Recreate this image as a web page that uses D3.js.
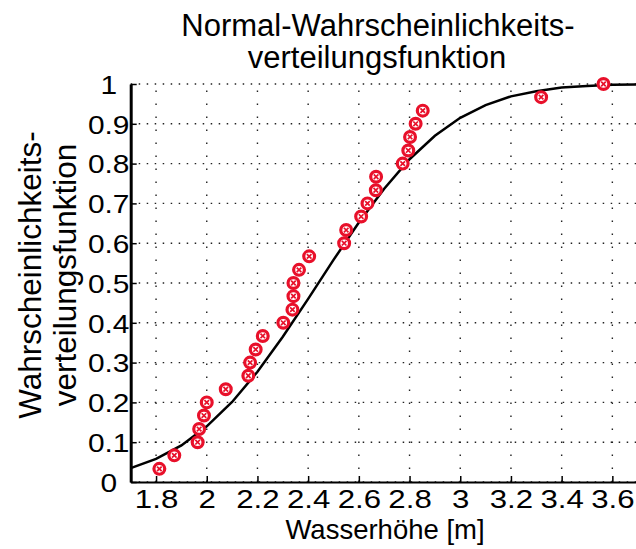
<!DOCTYPE html>
<html>
<head>
<meta charset="utf-8">
<script src="https://cdn.jsdelivr.net/npm/d3@7"></script>
<style>
    html, body { margin: 0; padding: 0; background: #fff; }
    svg { display: block; font-family: "Liberation Sans", Arial, sans-serif; }
</style>
</head>
<body>
<div id="figure"></div>
<script>
// tick labels
var xTicks = [1.8, 2, 2.2, 2.4, 2.6, 2.8, 3, 3.2, 3.4, 3.6];
var yTicks = [0, 0.1, 0.2, 0.3, 0.4, 0.5, 0.6, 0.7, 0.8, 0.9, 1];

// fitted normal cdf
var fitX = [1.7, 1.8, 1.9, 2.0, 2.1, 2.2, 2.3, 2.4, 2.5, 2.6, 2.7, 2.8, 2.9, 3.0, 3.1, 3.2, 3.3, 3.4, 3.5, 3.6, 3.7];
var fitY = [0.035, 0.058, 0.092, 0.14, 0.201, 0.277, 0.365, 0.46, 0.558, 0.652, 0.737, 0.811, 0.87, 0.915, 0.947, 0.969, 0.982, 0.991, 0.995, 0.998, 0.999];

// observed water levels and their empirical probabilities
var obsX = [1.813, 1.872, 1.964, 1.970, 1.989, 2.000, 2.075, 2.164, 2.171, 2.193,
            2.221, 2.302, 2.338, 2.342, 2.342, 2.364, 2.404, 2.542, 2.550, 2.609,
            2.634, 2.667, 2.668, 2.773, 2.795, 2.802, 2.824, 2.852, 3.319, 3.565];
var obsY = [0.033, 0.067, 0.1, 0.133, 0.167, 0.2, 0.233, 0.267, 0.3, 0.333,
            0.367, 0.4, 0.433, 0.467, 0.5, 0.533, 0.567, 0.6, 0.633, 0.667,
            0.7, 0.733, 0.767, 0.8, 0.833, 0.867, 0.9, 0.933, 0.967, 1.0];

var W = 636, H = 549;
var red = "#e8102a";
var tickFont = "26px";

var svg = d3.select("#figure")
    .append("svg")
    .attr("width", W)
    .attr("height", H);

var x = d3.scaleLinear()
    .domain([1.7, 3.7])
    .range([130.7, 637.7]);
var y = d3.scaleLinear()
    .domain([0, 1])
    .range([482, 84]);

// grid
svg.append("g")
    .selectAll("line")
    .data(xTicks)
    .enter()
    .append("line")
    .attr("x1", d => x(d))
    .attr("x2", d => x(d))
    .attr("y1", y(0))
    .attr("y2", y(1))
    .attr("stroke", "#222")
    .attr("stroke-width", 1.4)
    .attr("stroke-dasharray", "1.5,11.5");
svg.append("g")
    .selectAll("line")
    .data(yTicks)
    .enter()
    .append("line")
    .attr("x1", x(1.7))
    .attr("x2", x(3.7))
    .attr("y1", d => y(d))
    .attr("y2", d => y(d))
    .attr("stroke", "#222")
    .attr("stroke-width", 1.4)
    .attr("stroke-dasharray", "1.5,6.5");

// axes
var gx = svg.append("g")
    .attr("transform", "translate(0," + y(0) + ")")
    .call(d3.axisBottom(x)
        .tickValues(xTicks)
        .tickFormat(d3.format("~g"))
        .tickSizeInner(-6)
        .tickSizeOuter(0));
gx.select(".domain").attr("stroke-width", 2.2);
gx.selectAll(".tick line").attr("stroke-width", 1.5);
gx.selectAll(".tick text")
    .attr("y", 0)
    .attr("dy", 0)
    .attr("transform", "translate(0,26) scale(1.2,1)")
    .attr("fill", "#000")
    .style("font-size", tickFont)
    .style("font-family", "'Liberation Sans', Arial, sans-serif");

var gy = svg.append("g")
    .attr("transform", "translate(" + x(1.7) + ",0)")
    .call(d3.axisLeft(y)
        .tickValues(yTicks)
        .tickFormat(d3.format("~g"))
        .tickSizeInner(-6)
        .tickSizeOuter(0));
gy.select(".domain").attr("stroke-width", 3);
gy.selectAll(".tick line").attr("stroke-width", 1.5);
gy.selectAll(".tick text")
    .attr("x", 0)
    .attr("dy", 0)
    .attr("text-anchor", "middle")
    .attr("transform", "translate(-22,9.3) scale(1.15,1)")
    .attr("fill", "#000")
    .style("font-size", tickFont)
    .style("font-family", "'Liberation Sans', Arial, sans-serif");

// fitted curve
var line = d3.line()
    .x((d, i) => x(fitX[i]))
    .y(d => y(d));
svg.append("path")
    .datum(fitY)
    .attr("d", line)
    .attr("fill", "none")
    .attr("stroke", "#000")
    .attr("stroke-width", 2.5);

// observed points
var pts = svg.append("g")
    .selectAll("g")
    .data(obsY)
    .enter()
    .append("g")
    .attr("transform", (d, i) => "translate(" + x(obsX[i]) + "," + y(d) + ")");
pts.append("circle")
    .attr("r", 5.4)
    .attr("fill", "#fff")
    .attr("stroke", red)
    .attr("stroke-width", 3.2);
pts.append("path")
    .attr("d", "M-2.3,-2.3L2.3,2.3M-2.3,2.3L2.3,-2.3")
    .attr("stroke", red)
    .attr("stroke-width", 1.7);

// title and labels
var title = svg.append("text")
    .attr("text-anchor", "middle")
    .style("font-size", "31px");
title.append("tspan").attr("x", 378).attr("y", 36).text("Normal-Wahrscheinlichkeits-");
title.append("tspan").attr("x", 377).attr("y", 68).text("verteilungsfunktion");

svg.append("text")
    .attr("x", 385)
    .attr("y", 539)
    .attr("text-anchor", "middle")
    .style("font-size", "27.5px")
    .text("Wasserhöhe [m]");

var ylab = svg.append("text")
    .attr("transform", "translate(0,275) rotate(-90)")
    .attr("text-anchor", "middle")
    .style("font-size", "31.5px");
ylab.append("tspan").attr("x", 0).attr("y", 41).text("Wahrscheinlichkeits-");
ylab.append("tspan").attr("x", 0).attr("y", 76).text("verteilungsfunktion");
</script>
</body>
</html>
